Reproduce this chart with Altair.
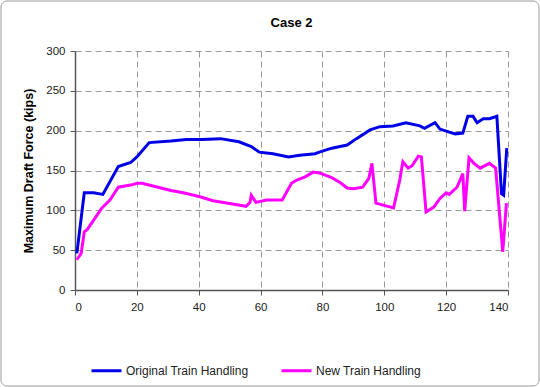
import altair as alt
import pandas as pd

orig_x = [0.6, 3, 6, 9, 14, 18, 20, 24, 31, 36, 41, 47, 53, 57, 59.6, 64, 69, 72.7, 77.6, 79,
          83, 88, 91, 95.4, 98.6, 102.8, 107, 111.5, 113, 116.4, 118, 122.9, 125.4, 127, 128.7,
          130, 132, 134, 136.4, 137.9, 138.6, 139.6]
orig_y = [46, 122, 122, 120, 155, 160, 167, 185, 187, 189, 189, 190, 186, 180, 173, 171, 167, 169, 171, 173,
          178, 182, 190, 201, 205, 206, 210, 206, 203, 210, 202, 196, 197, 218, 218,
          210, 215, 215, 218, 121, 119, 178]

new_x = [0.6, 2, 3, 4, 8.7, 11.3, 14, 18.4, 20, 21.7, 31, 35, 40.4, 44.6, 51, 55.3, 56.6, 57, 58.5, 62,
         67, 70, 71.7, 74.4, 77, 79, 83, 85.7, 88, 90, 93, 95, 96, 97.3, 103, 105, 106, 107.7, 109, 111,
         112, 113.5, 116, 118, 120, 121, 123.5, 125.4, 126, 127.4, 129, 131, 134, 136, 138.3, 139.5]
new_y = [38, 46, 73, 76, 103, 113, 129, 132, 134, 134, 125, 122, 117, 112, 108, 105, 110, 119, 110, 113,
         113, 134, 138, 142, 148, 147, 141, 135, 128, 127, 129, 140, 159, 109, 103, 138, 161, 153, 156, 168,
         167, 98, 104, 115, 122, 120, 129, 146, 99, 166, 159, 153, 159, 153, 48, 109]

series_names = ["Original Train Handling", "New Train Handling"]
series_colors = ["#0000E6", "#FF00FF"]
chart_title = "Case 2"

df = pd.concat([
    pd.DataFrame({"x": orig_x, "y": orig_y, "series": series_names[0], "i": range(len(orig_x))}),
    pd.DataFrame({"x": new_x, "y": new_y, "series": series_names[1], "i": range(len(new_x))}),
])

FONT = "Liberation Sans"

lines = alt.Chart(df).mark_line(strokeWidth=3).encode(
    x=alt.X("x:Q", scale=alt.Scale(domain=[0, 140], nice=False),
            axis=alt.Axis(values=list(range(0, 141, 20)), title=None)),
    y=alt.Y("y:Q", scale=alt.Scale(domain=[0, 300], nice=False),
            axis=alt.Axis(values=list(range(0, 301, 50)), title="Maximum Draft Force (kips)")),
    color=alt.Color("series:N", scale=alt.Scale(domain=series_names, range=series_colors),
                    legend=alt.Legend(title=None, orient="none", direction="horizontal",
                                      legendX=15, legendY=303, symbolType="stroke",
                                      symbolSize=900, symbolStrokeWidth=3, labelFontSize=12,
                                      labelFont=FONT, labelColor="#222", columnPadding=26,
                                      labelOffset=3)),
    order="i:Q",
)

border = alt.Chart(pd.DataFrame({"a": [0]})).mark_rect(
    fill=None, stroke="#999", strokeWidth=1, cornerRadius=6
).encode(x=alt.value(-74), x2=alt.value(464), y=alt.value(-50), y2=alt.value(335))

title = alt.Chart(pd.DataFrame({"t": [chart_title]})).mark_text(
    font=FONT, fontSize=13, fontWeight="bold", color="#000", baseline="alphabetic", align="center"
).encode(text="t:N", x=alt.value(216.5), y=alt.value(-24))

chart = alt.layer(border, lines, title).properties(
    width=433, height=239,
    autosize=alt.AutoSizeParams(type="none"),
    padding={"left": 75, "top": 51, "right": 32, "bottom": 97},
).configure_view(stroke=None).configure_axis(
    labelFont=FONT, labelFontSize=11.5, labelColor="#222",
    titleFont=FONT, titleFontSize=12.5, titleFontWeight="bold", titleColor="#000",
    grid=True, gridColor="#999", gridDash=[6, 4], gridWidth=1,
    domainColor="#555", domainWidth=1.5, tickColor="#555", tickSize=5,
).configure_axisY(titlePadding=10, labelPadding=5).configure_axisX(labelPadding=6)

chart.save("out.html", embed_options={"renderer": "svg", "actions": False})
